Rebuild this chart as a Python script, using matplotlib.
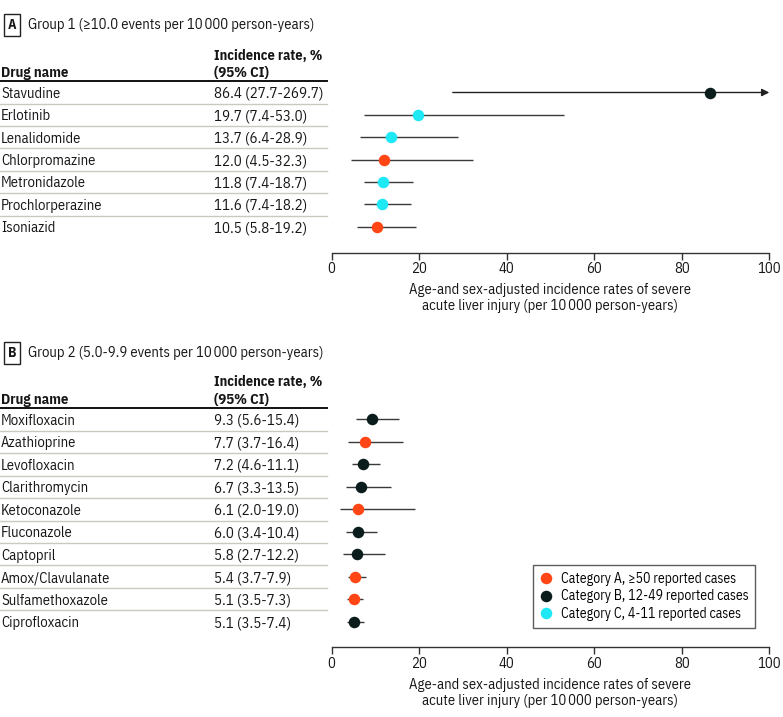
import matplotlib
matplotlib.use("Agg")
import matplotlib.pyplot as plt
from matplotlib.lines import Line2D
from matplotlib.transforms import blended_transform_factory

plt.rcParams['font.family'] = ['IBM Plex Sans Condensed', 'Lato', 'DejaVu Sans']
FS = 10.5

# ---------------- data ----------------
drugs_a = ["Stavudine", "Erlotinib", "Lenalidomide", "Chlorpromazine",
           "Metronidazole", "Prochlorperazine", "Isoniazid"]
rate_a = [86.4, 19.7, 13.7, 12.0, 11.8, 11.6, 10.5]
low_a = [27.7, 7.4, 6.4, 4.5, 7.4, 7.4, 5.8]
high_a = [269.7, 53.0, 28.9, 32.3, 18.7, 18.2, 19.2]
cat_a = ["B", "C", "C", "A", "C", "C", "A"]

drugs_b = ["Moxifloxacin", "Azathioprine", "Levofloxacin", "Clarithromycin",
           "Ketoconazole", "Fluconazole", "Captopril", "Amox/Clavulanate",
           "Sulfamethoxazole", "Ciprofloxacin"]
rate_b = [9.3, 7.7, 7.2, 6.7, 6.1, 6.0, 5.8, 5.4, 5.1, 5.1]
low_b = [5.6, 3.7, 4.6, 3.3, 2.0, 3.4, 2.7, 3.7, 3.5, 3.5]
high_b = [15.4, 16.4, 11.1, 13.5, 19.0, 10.4, 12.2, 7.9, 7.3, 7.4]
cat_b = ["B", "A", "B", "B", "A", "B", "B", "A", "A", "B"]

cat_colors = {"A": "#FF4614", "B": "#0B1C1C", "C": "#1EE8F4"}
cat_labels = {"A": "Category A, \u226550 reported cases",
              "B": "Category B, 12-49 reported cases",
              "C": "Category C, 4-11 reported cases"}

xticks = [0, 20, 40, 60, 80, 100]
xlabel = ("Age-and sex-adjusted incidence rates of severe\n"
          "acute liver injury (per 10\u2009000 person-years)")

W, H = 783, 717
fig = plt.figure(figsize=(W / 100, H / 100), dpi=100)


def fx(px):
    return px / W


def fy(py):
    return 1 - py / H


AX_L, AX_R = 331.5, 769.3
TXT = "#161616"


def panel(letter, title, title_py, drugs, rate, low, high, cat,
          top_py, bot_py, y0, step):
    n = len(drugs)
    ax = fig.add_axes([fx(AX_L), fy(bot_py), fx(AX_R) - fx(AX_L),
                       (bot_py - top_py) / H])
    ytop = (top_py - y0) / step
    ybot = (bot_py - y0) / step
    ax.set_ylim(ybot, ytop)
    ax.set_xlim(0, 100)
    for s in ["top", "right", "left"]:
        ax.spines[s].set_visible(False)
    ax.spines["bottom"].set_color("#333333")
    ax.spines["bottom"].set_linewidth(1.0)
    ax.set_yticks([])
    ax.set_xticks(xticks)
    ax.set_xticklabels([str(t) for t in xticks], fontsize=FS, color=TXT)
    ax.tick_params(axis="x", direction="out", length=5, width=1.0,
                   color="#333333", pad=2)
    ax.set_xlabel(xlabel, fontsize=FS, linespacing=1.15, labelpad=5,
                  color=TXT)
    ax.patch.set_visible(False)

    for i in range(n):
        hi = min(high[i], 100)
        if high[i] > 100:
            ax.annotate("", xy=(100, i), xytext=(low[i], i),
                        arrowprops=dict(arrowstyle="-|>", color="#222222",
                                        lw=1.0, mutation_scale=11,
                                        shrinkA=0, shrinkB=0),
                        annotation_clip=False)
        else:
            ax.plot([low[i], hi], [i, i], color="#3a3a3a", lw=1.0,
                    solid_capstyle="butt", zorder=2)
        ax.plot(rate[i], i, "o", ms=8.3, color=cat_colors[cat[i]],
                mec="none", zorder=3)

    tr = blended_transform_factory(fig.transFigure, ax.transData)
    for i in range(n):
        ax.text(fx(1), i, drugs[i], transform=tr, fontsize=FS,
                va="center_baseline", ha="left", color=TXT)
        txt = f"{rate[i]:.1f} ({low[i]:.1f}-{high[i]:.1f})"
        ax.text(fx(214.5), i, txt, transform=tr, fontsize=FS + 0.2,
                va="center_baseline", ha="left", color=TXT)
        if i < n - 1:
            ax.plot([0, fx(327)], [i + 0.5, i + 0.5], transform=tr,
                    color="#C9C9C0", lw=1.0, clip_on=False)
    ax.plot([0, fx(327)], [-0.5, -0.5], transform=tr, color="#111111",
            lw=1.4, clip_on=False)
    ax.text(fx(1), -0.92, "Drug name", transform=tr, fontsize=FS,
            fontweight="bold", va="center_baseline", ha="left", color=TXT)
    ax.text(fx(214.5), -0.92, "(95% CI)", transform=tr, fontsize=FS,
            fontweight="bold", va="center_baseline", ha="left", color=TXT)
    ax.text(fx(214.5), -1.72, "Incidence rate, %", transform=tr,
            fontsize=FS - 0.2, fontweight="bold", va="center_baseline",
            ha="left", color=TXT)

    fig.text(fx(12), fy(title_py), letter, fontsize=FS - 0.5,
             fontweight="bold", ha="center", va="center", color=TXT,
             bbox=dict(boxstyle="square,pad=0.3", fc="white",
                       ec="#222222", lw=1.0))
    fig.text(fx(28), fy(title_py), title, fontsize=FS, ha="left",
             va="center", color=TXT)
    return ax


panel("A", "Group 1 (\u226510.0 events per 10\u2009000 person-years)", 25,
      drugs_a, rate_a, low_a, high_a, cat_a,
      top_py=40, bot_py=252.7, y0=92.5, step=22.37)
axb = panel("B", "Group 2 (5.0-9.9 events per 10\u2009000 person-years)", 353.3,
            drugs_b, rate_b, low_b, high_b, cat_b,
            top_py=370, bot_py=647.3, y0=419.3, step=22.49)

handles = [Line2D([], [], marker="o", ls="none", ms=8.3, mec="none",
                  color=cat_colors[c]) for c in ["A", "B", "C"]]
leg = axb.legend(handles, [cat_labels[c] for c in ["A", "B", "C"]],
                 loc="upper left",
                 bbox_to_anchor=(fx(533.3), fy(565)),
                 bbox_transform=fig.transFigure, borderaxespad=0,
                 fontsize=FS - 0.6, frameon=True, fancybox=False,
                 handlelength=0.8, handletextpad=0.7, labelspacing=0.25,
                 borderpad=0.5)
leg.get_frame().set_edgecolor("#333333")
leg.get_frame().set_linewidth(1.0)

fig.savefig("out.png", dpi=100, facecolor="white")
